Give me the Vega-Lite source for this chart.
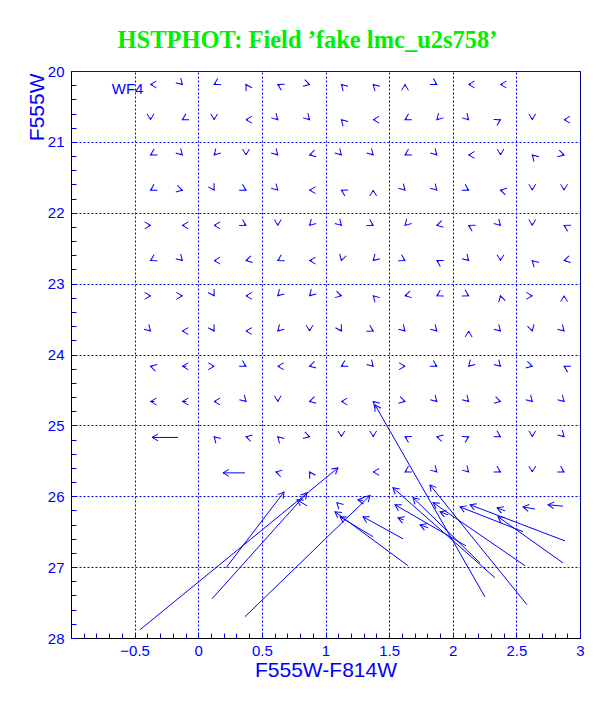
{
"$schema": "https://vega.github.io/schema/vega-lite/v6.json",
"width": 509, "height": 567,
"autosize": {"type": "none"},
"padding": {"left": 71, "top": 71, "right": 32, "bottom": 71},
"background": "white",
"title": {"text": "HSTPHOT: Field ’fake lmc_u2s758’", "font": "Liberation Serif", "fontSize": 24.5, "fontWeight": "bold", "color": "#00ee00", "anchor": "middle", "frame": "group", "dx": -18, "dy": 22, "offset": 14, "baseline": "alphabetic"},
"config": {"view": {"stroke": "black", "strokeWidth": 1}},
"datasets": {
"vec": [
{"c0":-0.359,"m0":20.19,"c1":-0.375,"m1":20.19},
{"c0":-0.136,"m0":20.17,"c1":-0.125,"m1":20.19},
{"c0":0.139,"m0":20.176,"c1":0.125,"m1":20.19},
{"c0":0.383,"m0":20.214,"c1":0.375,"m1":20.19},
{"c0":0.639,"m0":20.204,"c1":0.625,"m1":20.19},
{"c0":0.86,"m0":20.183,"c1":0.875,"m1":20.19},
{"c0":1.136,"m0":20.21,"c1":1.125,"m1":20.19},
{"c0":1.386,"m0":20.21,"c1":1.375,"m1":20.19},
{"c0":1.625,"m0":20.218,"c1":1.625,"m1":20.19},
{"c0":1.861,"m0":20.176,"c1":1.875,"m1":20.19},
{"c0":2.141,"m0":20.19,"c1":2.125,"m1":20.19},
{"c0":2.391,"m0":20.19,"c1":2.375,"m1":20.19},
{"c0":-0.375,"m0":20.659,"c1":-0.375,"m1":20.687},
{"c0":-0.111,"m0":20.673,"c1":-0.125,"m1":20.687},
{"c0":0.125,"m0":20.659,"c1":0.125,"m1":20.687},
{"c0":0.391,"m0":20.687,"c1":0.375,"m1":20.687},
{"c0":0.614,"m0":20.667,"c1":0.625,"m1":20.687},
{"c0":0.864,"m0":20.667,"c1":0.875,"m1":20.687},
{"c0":1.136,"m0":20.707,"c1":1.125,"m1":20.687},
{"c0":1.391,"m0":20.687,"c1":1.375,"m1":20.687},
{"c0":1.639,"m0":20.673,"c1":1.625,"m1":20.687},
{"c0":1.886,"m0":20.667,"c1":1.875,"m1":20.687},
{"c0":2.114,"m0":20.667,"c1":2.125,"m1":20.687},
{"c0":2.361,"m0":20.701,"c1":2.375,"m1":20.687},
{"c0":2.625,"m0":20.659,"c1":2.625,"m1":20.687},
{"c0":2.891,"m0":20.687,"c1":2.875,"m1":20.687},
{"c0":-0.361,"m0":21.17,"c1":-0.375,"m1":21.184},
{"c0":-0.136,"m0":21.164,"c1":-0.125,"m1":21.184},
{"c0":0.136,"m0":21.164,"c1":0.125,"m1":21.184},
{"c0":0.375,"m0":21.156,"c1":0.375,"m1":21.184},
{"c0":0.614,"m0":21.164,"c1":0.625,"m1":21.184},
{"c0":0.89,"m0":21.177,"c1":0.875,"m1":21.184},
{"c0":1.114,"m0":21.164,"c1":1.125,"m1":21.184},
{"c0":1.364,"m0":21.164,"c1":1.375,"m1":21.184},
{"c0":1.639,"m0":21.17,"c1":1.625,"m1":21.184},
{"c0":1.864,"m0":21.164,"c1":1.875,"m1":21.184},
{"c0":2.141,"m0":21.184,"c1":2.125,"m1":21.184},
{"c0":2.375,"m0":21.156,"c1":2.375,"m1":21.184},
{"c0":2.636,"m0":21.204,"c1":2.625,"m1":21.184},
{"c0":2.86,"m0":21.177,"c1":2.875,"m1":21.184},
{"c0":-0.361,"m0":21.667,"c1":-0.375,"m1":21.681},
{"c0":-0.14,"m0":21.674,"c1":-0.125,"m1":21.681},
{"c0":0.117,"m0":21.657,"c1":0.125,"m1":21.681},
{"c0":0.361,"m0":21.667,"c1":0.375,"m1":21.681},
{"c0":0.614,"m0":21.661,"c1":0.625,"m1":21.681},
{"c0":0.891,"m0":21.681,"c1":0.875,"m1":21.681},
{"c0":1.139,"m0":21.695,"c1":1.125,"m1":21.681},
{"c0":1.375,"m0":21.709,"c1":1.375,"m1":21.681},
{"c0":1.614,"m0":21.661,"c1":1.625,"m1":21.681},
{"c0":1.864,"m0":21.661,"c1":1.875,"m1":21.681},
{"c0":2.111,"m0":21.667,"c1":2.125,"m1":21.681},
{"c0":2.39,"m0":21.688,"c1":2.375,"m1":21.681},
{"c0":2.625,"m0":21.653,"c1":2.625,"m1":21.681},
{"c0":2.875,"m0":21.653,"c1":2.875,"m1":21.681},
{"c0":-0.391,"m0":22.178,"c1":-0.375,"m1":22.178},
{"c0":-0.109,"m0":22.178,"c1":-0.125,"m1":22.178},
{"c0":0.141,"m0":22.178,"c1":0.125,"m1":22.178},
{"c0":0.361,"m0":22.164,"c1":0.375,"m1":22.178},
{"c0":0.625,"m0":22.15,"c1":0.625,"m1":22.178},
{"c0":0.886,"m0":22.158,"c1":0.875,"m1":22.178},
{"c0":1.114,"m0":22.158,"c1":1.125,"m1":22.178},
{"c0":1.361,"m0":22.164,"c1":1.375,"m1":22.178},
{"c0":1.636,"m0":22.158,"c1":1.625,"m1":22.178},
{"c0":1.89,"m0":22.171,"c1":1.875,"m1":22.178},
{"c0":2.139,"m0":22.192,"c1":2.125,"m1":22.178},
{"c0":2.364,"m0":22.158,"c1":2.375,"m1":22.178},
{"c0":2.625,"m0":22.15,"c1":2.625,"m1":22.178},
{"c0":2.889,"m0":22.192,"c1":2.875,"m1":22.178},
{"c0":-0.361,"m0":22.661,"c1":-0.375,"m1":22.675},
{"c0":-0.136,"m0":22.655,"c1":-0.125,"m1":22.675},
{"c0":0.141,"m0":22.675,"c1":0.125,"m1":22.675},
{"c0":0.39,"m0":22.668,"c1":0.375,"m1":22.675},
{"c0":0.639,"m0":22.661,"c1":0.625,"m1":22.675},
{"c0":0.891,"m0":22.675,"c1":0.875,"m1":22.675},
{"c0":1.129,"m0":22.648,"c1":1.125,"m1":22.675},
{"c0":1.386,"m0":22.655,"c1":1.375,"m1":22.675},
{"c0":1.611,"m0":22.661,"c1":1.625,"m1":22.675},
{"c0":1.889,"m0":22.689,"c1":1.875,"m1":22.675},
{"c0":2.114,"m0":22.655,"c1":2.125,"m1":22.675},
{"c0":2.375,"m0":22.647,"c1":2.375,"m1":22.675},
{"c0":2.636,"m0":22.695,"c1":2.625,"m1":22.675},
{"c0":2.89,"m0":22.668,"c1":2.875,"m1":22.675},
{"c0":-0.391,"m0":23.172,"c1":-0.375,"m1":23.172},
{"c0":-0.141,"m0":23.172,"c1":-0.125,"m1":23.172},
{"c0":0.117,"m0":23.148,"c1":0.125,"m1":23.172},
{"c0":0.391,"m0":23.172,"c1":0.375,"m1":23.172},
{"c0":0.636,"m0":23.152,"c1":0.625,"m1":23.172},
{"c0":0.886,"m0":23.152,"c1":0.875,"m1":23.172},
{"c0":1.11,"m0":23.165,"c1":1.125,"m1":23.172},
{"c0":1.386,"m0":23.192,"c1":1.375,"m1":23.172},
{"c0":1.64,"m0":23.165,"c1":1.625,"m1":23.172},
{"c0":1.889,"m0":23.158,"c1":1.875,"m1":23.172},
{"c0":2.111,"m0":23.158,"c1":2.125,"m1":23.172},
{"c0":2.379,"m0":23.199,"c1":2.375,"m1":23.172},
{"c0":2.609,"m0":23.172,"c1":2.625,"m1":23.172},
{"c0":2.875,"m0":23.2,"c1":2.875,"m1":23.172},
{"c0":-0.386,"m0":23.649,"c1":-0.375,"m1":23.669},
{"c0":-0.109,"m0":23.669,"c1":-0.125,"m1":23.669},
{"c0":0.117,"m0":23.645,"c1":0.125,"m1":23.669},
{"c0":0.391,"m0":23.669,"c1":0.375,"m1":23.669},
{"c0":0.636,"m0":23.649,"c1":0.625,"m1":23.669},
{"c0":0.875,"m0":23.641,"c1":0.875,"m1":23.669},
{"c0":1.117,"m0":23.645,"c1":1.125,"m1":23.669},
{"c0":1.361,"m0":23.655,"c1":1.375,"m1":23.669},
{"c0":1.614,"m0":23.649,"c1":1.625,"m1":23.669},
{"c0":1.864,"m0":23.649,"c1":1.875,"m1":23.669},
{"c0":2.125,"m0":23.697,"c1":2.125,"m1":23.669},
{"c0":2.364,"m0":23.649,"c1":2.375,"m1":23.669},
{"c0":2.621,"m0":23.642,"c1":2.625,"m1":23.669},
{"c0":2.864,"m0":23.649,"c1":2.875,"m1":23.669},
{"c0":-0.36,"m0":24.173,"c1":-0.375,"m1":24.166},
{"c0":-0.094,"m0":24.166,"c1":-0.125,"m1":24.166},
{"c0":0.109,"m0":24.166,"c1":0.125,"m1":24.166},
{"c0":0.361,"m0":24.152,"c1":0.375,"m1":24.166},
{"c0":0.641,"m0":24.166,"c1":0.625,"m1":24.166},
{"c0":0.89,"m0":24.159,"c1":0.875,"m1":24.166},
{"c0":1.139,"m0":24.152,"c1":1.125,"m1":24.166},
{"c0":1.364,"m0":24.146,"c1":1.375,"m1":24.166},
{"c0":1.609,"m0":24.166,"c1":1.625,"m1":24.166},
{"c0":1.861,"m0":24.152,"c1":1.875,"m1":24.166},
{"c0":2.136,"m0":24.146,"c1":2.125,"m1":24.166},
{"c0":2.364,"m0":24.146,"c1":2.375,"m1":24.166},
{"c0":2.61,"m0":24.159,"c1":2.625,"m1":24.166},
{"c0":2.889,"m0":24.18,"c1":2.875,"m1":24.166},
{"c0":-0.344,"m0":24.663,"c1":-0.375,"m1":24.663},
{"c0":-0.094,"m0":24.663,"c1":-0.125,"m1":24.663},
{"c0":0.141,"m0":24.663,"c1":0.125,"m1":24.663},
{"c0":0.364,"m0":24.643,"c1":0.375,"m1":24.663},
{"c0":0.625,"m0":24.635,"c1":0.625,"m1":24.663},
{"c0":0.89,"m0":24.656,"c1":0.875,"m1":24.663},
{"c0":1.141,"m0":24.663,"c1":1.125,"m1":24.663},
{"c0":1.386,"m0":24.683,"c1":1.375,"m1":24.663},
{"c0":1.61,"m0":24.656,"c1":1.625,"m1":24.663},
{"c0":1.864,"m0":24.643,"c1":1.875,"m1":24.663},
{"c0":2.114,"m0":24.643,"c1":2.125,"m1":24.663},
{"c0":2.36,"m0":24.656,"c1":2.375,"m1":24.663},
{"c0":2.614,"m0":24.643,"c1":2.625,"m1":24.663},
{"c0":2.864,"m0":24.643,"c1":2.875,"m1":24.663},
{"c0":-0.159,"m0":25.17,"c1":-0.363,"m1":25.17},
{"c0":0.136,"m0":25.18,"c1":0.125,"m1":25.16},
{"c0":0.39,"m0":25.167,"c1":0.375,"m1":25.16},
{"c0":0.636,"m0":25.18,"c1":0.625,"m1":25.16},
{"c0":0.86,"m0":25.153,"c1":0.875,"m1":25.16},
{"c0":1.125,"m0":25.132,"c1":1.125,"m1":25.16},
{"c0":1.375,"m0":25.132,"c1":1.375,"m1":25.16},
{"c0":1.639,"m0":25.174,"c1":1.625,"m1":25.16},
{"c0":1.89,"m0":25.167,"c1":1.875,"m1":25.16},
{"c0":2.111,"m0":25.174,"c1":2.125,"m1":25.16},
{"c0":2.361,"m0":25.146,"c1":2.375,"m1":25.16},
{"c0":2.625,"m0":25.132,"c1":2.625,"m1":25.16},
{"c0":2.864,"m0":25.14,"c1":2.875,"m1":25.16},
{"c0":0.367,"m0":25.67,"c1":0.194,"m1":25.67},
{"c0":0.625,"m0":25.664,"c1":0.61,"m1":25.657},
{"c0":0.883,"m0":25.681,"c1":0.875,"m1":25.657},
{"c0":1.391,"m0":25.657,"c1":1.375,"m1":25.657},
{"c0":1.639,"m0":25.643,"c1":1.625,"m1":25.657},
{"c0":1.864,"m0":25.637,"c1":1.875,"m1":25.657},
{"c0":2.114,"m0":25.637,"c1":2.125,"m1":25.657},
{"c0":2.361,"m0":25.643,"c1":2.375,"m1":25.657},
{"c0":2.625,"m0":25.629,"c1":2.625,"m1":25.657},
{"c0":2.861,"m0":25.643,"c1":2.875,"m1":25.657},
{"c0":0.855,"m0":26.135,"c1":0.776,"m1":26.05},
{"c0":1.101,"m0":26.11,"c1":1.09,"m1":26.09},
{"c0":1.294,"m0":26.06,"c1":1.255,"m1":26.05},
{"c0":2.646,"m0":26.18,"c1":2.552,"m1":26.15},
{"c0":2.866,"m0":26.14,"c1":2.749,"m1":26.12},
{"c0":1.614,"m0":26.334,"c1":1.57,"m1":26.305},
{"c0":1.806,"m0":26.445,"c1":1.743,"m1":26.403},
{"c0":1.963,"m0":26.262,"c1":1.9,"m1":26.22},
{"c0":2.411,"m0":26.206,"c1":2.348,"m1":26.164},
{"c0":-0.458,"m0":27.884,"c1":1.098,"m1":25.6},
{"c0":0.108,"m0":27.447,"c1":0.855,"m1":25.952},
{"c0":0.218,"m0":27.01,"c1":0.674,"m1":25.94},
{"c0":0.367,"m0":27.7,"c1":1.35,"m1":25.99},
{"c0":2.253,"m0":27.42,"c1":1.389,"m1":24.71},
{"c0":2.583,"m0":27.53,"c1":1.821,"m1":25.84},
{"c0":2.332,"m0":27.15,"c1":1.53,"m1":25.88},
{"c0":2.214,"m0":26.94,"c1":1.688,"m1":26.02},
{"c0":2.568,"m0":26.98,"c1":1.845,"m1":26.09},
{"c0":2.866,"m0":26.94,"c1":2.356,"m1":26.29},
{"c0":2.882,"m0":26.63,"c1":2.136,"m1":26.12},
{"c0":2.552,"m0":26.5,"c1":2.057,"m1":26.15},
{"c0":2.104,"m0":26.7,"c1":1.546,"m1":26.12},
{"c0":1.648,"m0":26.98,"c1":1.075,"m1":26.22},
{"c0":1.373,"m0":26.57,"c1":1.114,"m1":26.29},
{"c0":1.609,"m0":26.6,"c1":1.295,"m1":26.29}
],
"lab": [{"label": "WF4", "c": -0.68, "m": 20.32}]
},
"layer": [
{
"data": {"name": "vec"},
"mark": {"type": "rule", "color": "#0000ff", "strokeWidth": 1},
"encoding": {
"x": {"field": "c0", "type": "quantitative", "scale": {"domain": [-1, 3], "nice": false, "zero": false},
 "axis": {"values": [-1,-0.9,-0.8,-0.7,-0.6,-0.5,-0.4,-0.3,-0.2,-0.1,0,0.1,0.2,0.3,0.4,0.5,0.6,0.7,0.8,0.9,1,1.1,1.2,1.3,1.4,1.5,1.6,1.7,1.8,1.9,2,2.1,2.2,2.3,2.4,2.5,2.6,2.7,2.8,2.9,3],
  "tickCount": 200,
  "format": ".1~f",
  "labelExpr": "abs(datum.value*2-round(datum.value*2))<0.001 && datum.value>-0.9 ? datum.label : ''",
  "title": "F555W-F814W",
  "tickSize": -5, "tickColor": "#0000ff", "tickWidth": 1,
  "domainColor": "black", "domainWidth": 1,
  "grid": true, "gridColor": "#0000ff", "gridDash": [2, 2], "gridWidth": 1,
  "gridOpacity": {"condition": {"test": "abs(datum.value*2-round(datum.value*2))<0.001 && datum.value>-0.9", "value": 1}, "value": 0},
  "labelColor": "#0000ff", "labelFont": "Liberation Sans", "labelFontSize": 15, "labelPadding": 10, "labelBaseline": "top",
  "labelFlush": false, "labelOverlap": false,
  "titleColor": "#0000ff", "titleFont": "Liberation Sans", "titleFontSize": 21, "titleFontWeight": "normal",
  "titleY": 38, "titleBaseline": "alphabetic"}},
"y": {"field": "m0", "type": "quantitative", "scale": {"domain": [20, 28], "nice": false, "zero": false, "reverse": true},
 "axis": {"values": [20,20.2,20.4,20.6,20.8,21,21.2,21.4,21.6,21.8,22,22.2,22.4,22.6,22.8,23,23.2,23.4,23.6,23.8,24,24.2,24.4,24.6,24.8,25,25.2,25.4,25.6,25.8,26,26.2,26.4,26.6,26.8,27,27.2,27.4,27.6,27.8,28],
  "tickCount": 200,
  "format": ".1~f",
  "labelExpr": "abs(datum.value-round(datum.value))<0.001 ? datum.label : ''",
  "title": "F555W",
  "tickSize": -5, "tickColor": "#0000ff", "tickWidth": 1,
  "domainColor": "black", "domainWidth": 1,
  "grid": true, "gridColor": "#0000ff", "gridWidth": 1,
  "gridDash": {"condition": {"test": "datum.value < 20.1", "value": []}, "value": [2, 2]},
  "gridOpacity": {"condition": {"test": "abs(datum.value-round(datum.value))<0.001 && datum.value<27.9", "value": 1}, "value": 0},
  "labelColor": "#0000ff", "labelFont": "Liberation Sans", "labelFontSize": 15, "labelPadding": 12,
  "labelFlush": false, "labelOverlap": false,
  "titleColor": "#0000ff", "titleFont": "Liberation Sans", "titleFontSize": 21, "titleFontWeight": "normal",
  "titleAngle": 270, "titleAlign": "right", "titleBaseline": "alphabetic", "titleX": -28, "titleY": 2}},
"x2": {"field": "c1"},
"y2": {"field": "m1"}
}
},
{
"data": {"name": "vec"},
"transform": [{"calculate": "(atan2((datum.m1-datum.m0)*70.9,(datum.c1-datum.c0)*127.25)*180/PI+360)%360", "as": "ang"}],
"mark": {"type": "point", "shape": "M -1 -0.577 L 0 0 L -1 0.577", "filled": false, "color": "#0000ff", "strokeWidth": 1, "opacity": 1, "size": 140},
"encoding": {
"x": {"field": "c1", "type": "quantitative", "scale": {"domain": [-1, 3], "nice": false, "zero": false}},
"y": {"field": "m1", "type": "quantitative", "scale": {"domain": [20, 28], "nice": false, "zero": false, "reverse": true}},
"angle": {"field": "ang", "type": "quantitative", "scale": null}
}
},
{
"data": {"name": "lab"},
"mark": {"type": "text", "align": "left", "baseline": "alphabetic", "font": "Liberation Sans", "fontSize": 15, "color": "#0000ff"},
"encoding": {
"x": {"field": "c", "type": "quantitative", "scale": {"domain": [-1, 3], "nice": false, "zero": false}},
"y": {"field": "m", "type": "quantitative", "scale": {"domain": [20, 28], "nice": false, "zero": false, "reverse": true}},
"text": {"field": "label"}
}
}
]
}
